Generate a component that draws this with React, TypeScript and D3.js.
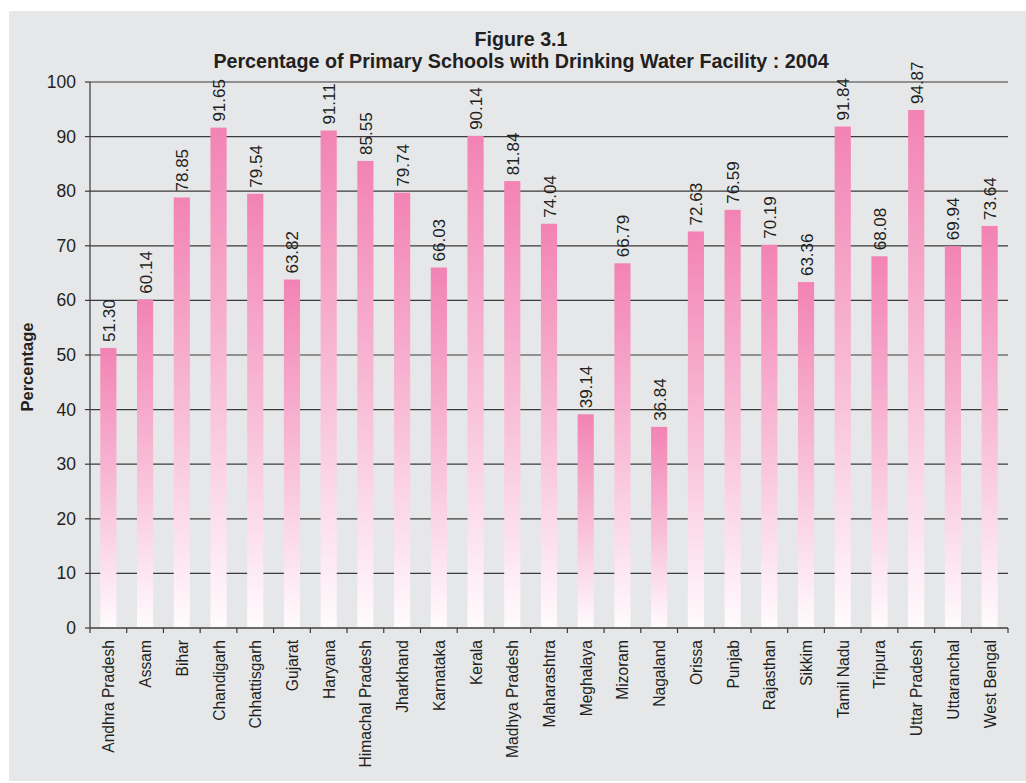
import * as d3 from "d3";

const states = [
  "Andhra Pradesh", "Assam", "Bihar", "Chandigarh", "Chhattisgarh", "Gujarat",
  "Haryana", "Himachal Pradesh", "Jharkhand", "Karnataka", "Kerala", "Madhya Pradesh",
  "Maharashtra", "Meghalaya", "Mizoram", "Nagaland", "Orissa", "Punjab",
  "Rajasthan", "Sikkim", "Tamil Nadu", "Tripura", "Uttar Pradesh", "Uttaranchal", "West Bengal",
];

const percentages = [
  51.30, 60.14, 78.85, 91.65, 79.54, 63.82,
  91.11, 85.55, 79.74, 66.03, 90.14, 81.84,
  74.04, 39.14, 66.79, 36.84, 72.63, 76.59,
  70.19, 63.36, 91.84, 68.08, 94.87, 69.94, 73.64,
];

const yTicks = [0, 10, 20, 30, 40, 50, 60, 70, 80, 90, 100];

const W = 1026;
const H = 783;
const font = "'Liberation Sans', Arial, sans-serif";

export default function App() {
  const left = 90, right = 1008, top = 82, bottom = 628;

  const x = d3.scaleBand<string>().domain(states).range([left, right]).paddingInner(0.56).paddingOuter(0.28);
  const y = d3.scaleLinear().domain([0, 100]).range([bottom, top]);
  const bounds = d3.range(states.length + 1).map((i) => left + i * (right - left) / states.length);

  return (
    <svg width={W} height={H} style={{ position: "absolute", left: 0, top: 0 }}>
      <defs>
        <linearGradient id="barFill" x1="0" y1="0" x2="0" y2="1">
          <stop offset="0%" stopColor="#f283b4" />
          <stop offset="50%" stopColor="#f8bcd6" />
          <stop offset="100%" stopColor="#fffbfd" />
        </linearGradient>
      </defs>
      <rect x={0} y={0} width={W} height={H} fill="#ffffff" />
      <rect x={9} y={11} width={W - 9} height={770} fill="#e6e7e9" />

      <text x={521} y={46} textAnchor="middle" fontFamily={font} fontWeight="bold" fontSize={19.7} fill="#231f20">Figure 3.1</text>
      <text x={521} y={68} textAnchor="middle" fontFamily={font} fontWeight="bold" fontSize={19.7} fill="#231f20">
        Percentage of Primary Schools with Drinking Water Facility : 2004
      </text>

      {yTicks.map((t) => (
        <g key={t}>
          {t > 0 && <line x1={left} x2={right} y1={y(t)} y2={y(t)} stroke="#3a3a3a" strokeWidth={1.2} />}
          <line x1={left - 5} x2={left} y1={y(t)} y2={y(t)} stroke="#3a3a3a" strokeWidth={1.2} />
          <text x={left - 14} y={y(t) + 6} textAnchor="end" fontFamily={font} fontSize={17.5} fill="#231f20">{t}</text>
        </g>
      ))}

      <text transform={`translate(33, ${(top + bottom) / 2 + 12}) rotate(-90)`} textAnchor="middle" fontFamily={font} fontWeight="bold" fontSize={16.5} fill="#231f20">Percentage</text>

      {states.map((s, i) => (
        <rect key={s} x={x(s)} y={y(percentages[i])} width={x.bandwidth()} height={bottom - y(percentages[i])} fill="url(#barFill)" />
      ))}

      <line x1={left} x2={left} y1={top} y2={bottom} stroke="#3a3a3a" strokeWidth={1.2} />
      <line x1={left} x2={right} y1={bottom} y2={bottom} stroke="#6a6a6a" strokeWidth={2} />
      {bounds.map((b, i) => (
        <line key={i} x1={b} x2={b} y1={bottom} y2={bottom + 5} stroke="#3a3a3a" strokeWidth={1.2} />
      ))}

      {states.map((s, i) => {
        const cx = (x(s) as number) + x.bandwidth() / 2;
        return (
          <text key={s} transform={`translate(${cx + 6.5}, ${y(percentages[i]) - 6}) rotate(-90)`} fontFamily={font} fontSize={17} fill="#231f20">
            {percentages[i].toFixed(2)}
          </text>
        );
      })}

      {states.map((s) => {
        const cx = (x(s) as number) + x.bandwidth() / 2;
        return (
          <text key={s} transform={`translate(${cx + 6}, ${bottom + 12}) rotate(-90)`} textAnchor="end" fontFamily={font} fontSize={15.6} fill="#231f20">
            {s}
          </text>
        );
      })}
    </svg>
  );
}
